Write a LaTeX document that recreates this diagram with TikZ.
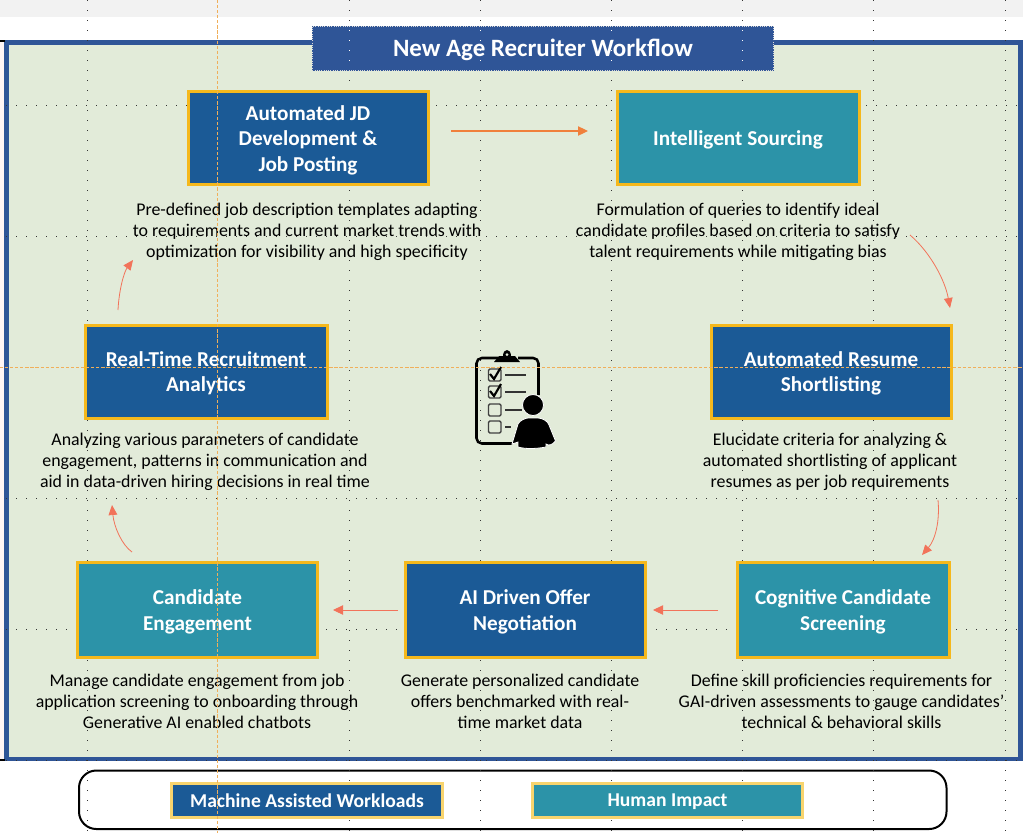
\documentclass[tikz,border=0pt]{standalone}
\usepackage{fontspec}
\setmainfont{Carlito}
\usetikzlibrary{arrows.meta}
\definecolor{framec}{HTML}{2F5597}
\definecolor{panelc}{HTML}{E2EBD9}
\definecolor{bluec}{HTML}{1B5A96}
\definecolor{tealc}{HTML}{2C93A8}
\definecolor{goldc}{HTML}{F5B81C}
\definecolor{softgold}{HTML}{F8D46E}
\definecolor{arrowc}{HTML}{F0803C}
\definecolor{curvec}{HTML}{F2735A}
\definecolor{amberc}{RGB}{240,175,90}
\newcommand{\lowered}[1]{\raisebox{-1.9pt}[\height][\depth]{\begin{tabular}{@{}c@{}}#1\end{tabular}}}
\tikzset{
  x=0.75pt,y=-0.75pt,
  stepbox/.style={draw=goldc,line width=2.25pt,minimum width=180pt,minimum height=69.75pt,inner sep=0pt,align=center,text=white,font=\fontsize{15.9}{19.2}\selectfont\bfseries},
  machine/.style={stepbox,fill=bluec},
  human/.style={stepbox,fill=tealc},
  desc/.style={align=center,text=black,inner sep=0pt,font=\fontsize{13.4}{15.75}\selectfont},
  legendbox/.style={draw=softgold,line width=2.25pt,minimum width=203pt,minimum height=25.5pt,inner sep=0pt,text=white,font=\fontsize{14.7}{16}\selectfont\bfseries},
  straightarrow/.style={draw=arrowc,line width=0.85pt,-{Triangle[length=7.5pt,width=7pt]}},
  curvearrow/.style={draw=curvec,line width=0.6pt,-{Triangle[length=7.5pt,width=6.5pt]}},
  griddots/.style={black!80,line width=0.6pt,dash pattern=on 0.75pt off 6.75pt},
  titledots/.style={white,line width=0.6pt,dash pattern=on 0.75pt off 6.75pt},
  orangeguide/.style={draw=amberc,line width=0.5pt,dash pattern=on 2.4pt off 1.4pt},
  icon/.style={line width=1.9pt,draw=black,rounded corners=4pt}
}
\begin{document}
\begin{tikzpicture}
\useasboundingbox (0,0) rectangle (1023,833);
\fill[white] (0,0) rectangle (1023,833);
\fill[black!5] (0,0) rectangle (1023,17);
\fill[red!4] (0,40) rectangle (4,760);
% panel
\draw[framec,line width=3.4pt,fill=panelc] (6.5,42.5) rectangle (1020.5,759);
\draw[black,line width=1pt] (0,41) -- (5,41);
\draw[black,line width=1pt] (0,760) -- (5,760);
% legend frame
\draw[black,line width=1.5pt,rounded corners=13pt] (79,770.5) rectangle (946.5,829);
% dotted guides under the shapes
\foreach \xx in {87,349,480,611,742,873,1005}{\draw[griddots] (\xx,0) -- (\xx,833);}
\foreach \yy in {105,236,498,629,760}{\draw[griddots] (6,\yy) -- (1020,\yy);}
% title
\node[fill=framec,draw=white!85!black,densely dotted,line width=0.7pt,minimum width=346pt,minimum height=33.5pt,inner sep=0pt,text=white,font=\fontsize{18.7}{22}\selectfont\bfseries] (title) at (543,48.5) {\raisebox{-1pt}[\height][\depth]{New Age Recruiter Workflow}};
\foreach \xx in {349,480,611,742}{\draw[titledots] (\xx,30) -- (\xx,70);}
% step boxes
\node[machine] (jd) at (308,138) {\lowered{Automated JD\\Development \&\\Job Posting}};
\node[human,minimum width=181.5pt] (sourcing) at (738,138) {\lowered{Intelligent Sourcing}};
\node[machine] (resume) at (831,371.5) {\lowered{Automated Resume\\Shortlisting}};
\node[machine,minimum width=181.5pt] (analytics) at (206,371.5) {\lowered{Real-Time Recruitment\\Analytics}};
\node[human,minimum width=159pt,minimum height=71.5pt] (screening) at (843,610) {\lowered{Cognitive Candidate\\Screening}};
\node[machine,minimum height=71.5pt] (offer) at (525,610) {\lowered{AI Driven Offer\\Negotiation}};
\node[human,minimum width=180.5pt,minimum height=71.5pt] (engage) at (197.5,610) {\lowered{Candidate\\Engagement}};
% descriptions
\node[desc] (d1) at (307,232) {Pre-defined job description templates adapting\\to requirements and current market trends with\\optimization for visibility and high specificity};
\node[desc] (d2) at (738,232) {Formulation of queries to identify ideal\\candidate profiles based on criteria to satisfy\\talent requirements while mitigating bias};
\node[desc] (d3) at (830,462) {Elucidate criteria for analyzing \&\\automated shortlisting of applicant\\resumes as per job requirements};
\node[desc] (d4) at (205,462) {Analyzing various parameters of candidate\\engagement, patterns in communication and\\aid in data-driven hiring decisions in real time};
\node[desc] (d5) at (841.5,701) {Define skill proficiencies requirements for\\GAI-driven assessments to gauge candidates’\\technical \& behavioral skills};
\node[desc] (d6) at (520,701) {Generate personalized candidate\\offers benchmarked with real-\\time market data};
\node[desc] (d7) at (197,701) {Manage candidate engagement from job\\application screening to onboarding through\\Generative AI enabled chatbots};
% connector ends
\coordinate (a1s) at (451,131); \coordinate (a1e) at (588,131);
\coordinate (a2s) at (910,235); \coordinate (a2e) at (950,308);
\coordinate (a3s) at (938,500); \coordinate (a3e) at (922,555);
\coordinate (a4s) at (718,610); \coordinate (a4e) at (653,610);
\coordinate (a5s) at (398,610); \coordinate (a5e) at (333,610);
\coordinate (a6s) at (132,552); \coordinate (a6e) at (112,505);
\coordinate (a7s) at (118,310); \coordinate (a7e) at (133,260);
\draw[straightarrow] (a1s) -- (a1e);
\draw[curvearrow] (a2s) .. controls (930,252) and (945,280) .. (a2e);
\draw[curvearrow] (a3s) .. controls (940,522) and (935,540) .. (a3e);
\draw[straightarrow,draw=curvec,line width=0.6pt] (a4s) -- (a4e);
\draw[straightarrow,draw=curvec,line width=0.6pt] (a5s) -- (a5e);
\draw[curvearrow] (a6s) .. controls (122,545) and (114,527) .. (a6e);
\draw[curvearrow] (a7s) .. controls (119,290) and (124,272) .. (a7e);
% icon
\draw[icon] (498,358) -- (476.5,358) -- (476.5,443.5) -- (512,443.5);
\draw[icon] (518,358) -- (538.5,358) -- (538.5,395);
\fill[black] (494,362) -- (499,356) -- (503,356) .. controls (503,348) and (511,348) .. (511,356) -- (515,356) -- (520,362) -- cycle;
\fill[panelc] (507,354.5) circle (1.5);
\foreach \yy in {375,392,410,427}{\draw[line width=1pt,draw=black!75,rounded corners=1pt] (488.5,\yy-6) rectangle (501,\yy+6);}
\draw[line width=1.6pt] (490,374) -- (494,379) -- (501,367);
\draw[line width=1.6pt] (490,391) -- (494,396) -- (501,384);
\draw[line width=1.3pt,black!80] (505,375) -- (526,375);
\draw[line width=1.3pt,black!80] (505,392) -- (526,392);
\draw[line width=1.3pt,black!80] (505,410) -- (522,410);
\draw[line width=1.3pt,black!80] (505,427) -- (511,427);
\fill[black,draw=white,line width=0.6pt] (533,405) circle (10.5);
\fill[black,draw=white,line width=0.6pt] (512,444) -- (518,424) .. controls (520,420) and (526,418) .. (528,418) -- (538,418) .. controls (542,418) and (548,421) .. (549,425) -- (555.5,441) .. controls (552,445) and (549,446) .. (546,444) -- (546,447) .. controls (535,449) and (525,449) .. (518,447) -- (518,442) -- cycle;
% legend
\node[legendbox,fill=bluec] (m) at (307,800) {\raisebox{-0.6pt}[\height][\depth]{Machine Assisted Workloads}};
\node[legendbox,fill=tealc] (h) at (667.5,800) {\raisebox{-1.2pt}[\height][\depth]{Human Impact}};
% orange guides on top
\draw[orangeguide] (217,0) -- (217,833);
\draw[orangeguide] (0,367) -- (1023,367);
\end{tikzpicture}
\end{document}
